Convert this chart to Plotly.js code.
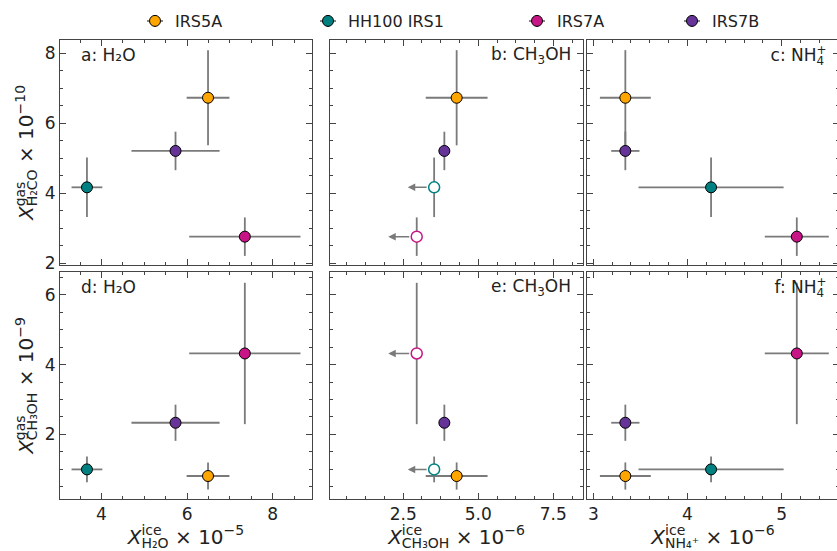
<!DOCTYPE html>
<html><head><meta charset="utf-8">
<script src="https://cdn.plot.ly/plotly-3.0.1.min.js"></script>
<style>html,body{margin:0;padding:0;overflow:hidden;background:#fff}#chart{width:840px;height:551px}</style>
</head><body><div id="chart"></div>
<script>
// ---------------- data ----------------
const sources = ['IRS5A', 'HH100 IRS1', 'IRS7A', 'IRS7B'];
const colors = ['#FFA500', '#008080', '#C71585', '#663399'];

// ice abundances (x)
const iceH2O = [6.49, 3.66, 7.35, 5.73];          // x 1e-5
const iceH2OErr = [0.50, 0.36, 1.30, 1.03];
const iceCH3OH = [4.28, 3.53, 2.95, 3.87];        // x 1e-6
const iceCH3OHErr = [1.03, 0, 0, 0];
const iceCH3OHUpper = [false, true, true, false]; // upper limits
const iceCH3OHArrow = [0, 0.88, 0.95, 0];
const iceNH4 = [3.34, 4.25, 5.16, 3.34];          // x 1e-6
const iceNH4Err = [0.27, 0.77, 0.34, 0.15];

// gas abundances (y)
const gasH2CO = [6.73, 4.17, 2.76, 5.21];         // x 1e-10
const gasH2COErr = [1.36, 0.85, 0.55, 0.55];
const gasCH3OH = [0.80, 0.99, 4.32, 2.33];        // x 1e-9
const gasCH3OHErr = [0.39, 0.37, 2.03, 0.52];

const panelLabels = ['a: H₂O', 'b: CH<sub>3</sub>OH', 'c: NH<sub>4</sub><sup>+</sup>',
                     'd: H₂O', 'e: CH<sub>3</sub>OH', 'f: NH<sub>4</sub><sup>+</sup>'];
const xTitles = ['<i>X</i><sup>ice</sup><sub>H₂O</sub> × 10<sup>−5</sup>',
                 '<i>X</i><sup>ice</sup><sub>CH₃OH</sub> × 10<sup>−6</sup>',
                 '<i>X</i><sup>ice</sup><sub>NH₄⁺</sub> × 10<sup>−6</sup>'];
const yTitles = ['<i>X</i><sup>gas</sup><sub>H₂CO</sub> × 10<sup>−10</sup>',
                 '<i>X</i><sup>gas</sup><sub>CH₃OH</sub> × 10<sup>−9</sup>'];

// ---------------- layout geometry ----------------
const W = 840, H = 551;
const FONT = 'DejaVu Sans, sans-serif';
const colPx = [[60, 312], [330, 583], [587, 839]];
const rowPx = [[40, 265], [272, 499]];
const xRanges = [[3.03, 8.92], [0.06, 8.49], [2.933, 5.608]];
const yRanges = [[1.95, 8.38], [0.14, 6.66]];
const xDticks = [[2, 0.5, ''], [2.5, 0.625, '.1f'], [1, 0.2, '']];
const legendCx = [155, 328, 537, 692];
const legendCy = 21;

const iceX = [iceH2O, iceCH3OH, iceNH4];
const iceXErr = [iceH2OErr, iceCH3OHErr, iceNH4Err];
const gasY = [gasH2CO, gasCH3OH];
const gasYErr = [gasH2COErr, gasCH3OHErr];

const traces = [];
const annotations = [];
const layout = {
  width: W, height: H,
  margin: {l: 0, r: 0, t: 0, b: 0},
  paper_bgcolor: 'white', plot_bgcolor: 'white',
  font: {family: FONT, color: '#222'},
  showlegend: true,
  annotations: annotations,
  shapes: []
};

const lineCol = '#444';
function axisCommon() {
  return {
    showline: true, mirror: 'allticks', linecolor: lineCol, linewidth: 1,
    ticks: 'inside', ticklen: 6, tickwidth: 1, tickcolor: lineCol,
    showgrid: false, zeroline: false,
    tickfont: {family: FONT, size: 17, color: '#222'},
    minor: {ticks: 'inside', ticklen: 3, tickwidth: 1, tickcolor: lineCol, showgrid: false},
    fixedrange: true
  };
}

for (let r = 0; r < 2; r++) {
  for (let c = 0; c < 3; c++) {
    const k = r * 3 + c + 1;
    const xs = k === 1 ? '' : String(k);
    const xa = 'xaxis' + xs, ya = 'yaxis' + xs;
    const xref = 'x' + xs, yref = 'y' + xs;

    const ax = axisCommon();
    ax.domain = [colPx[c][0] / W, colPx[c][1] / W];
    ax.range = xRanges[c];
    ax.anchor = yref;
    ax.tick0 = 0; ax.dtick = xDticks[c][0];
    ax.minor.dtick = xDticks[c][1]; ax.minor.tick0 = 0;
    if (xDticks[c][2]) ax.tickformat = xDticks[c][2];
    ax.showticklabels = (r === 1);
    if (r === 1) ax.title = {text: xTitles[c], font: {family: FONT, size: 20, color: '#222'}, standoff: 5};
    layout[xa] = ax;

    const ay = axisCommon();
    ay.domain = [1 - rowPx[r][1] / H, 1 - rowPx[r][0] / H];
    ay.range = yRanges[r];
    ay.anchor = xref;
    ay.tick0 = 0; ay.dtick = 2;
    ay.minor.dtick = 0.5; ay.minor.tick0 = 0;
    ay.showticklabels = (c === 0);
    if (c === 0) ay.title = {text: yTitles[r], font: {family: FONT, size: 20, color: '#222'}, standoff: 5};
    layout[ya] = ay;

    for (let i = 0; i < sources.length; i++) {
      const open = (c === 1 && iceCH3OHUpper[i]);
      const xe = iceXErr[c][i];
      traces.push({
        type: 'scatter', mode: 'markers',
        x: [iceX[c][i]], y: [gasY[r][i]],
        xaxis: xref, yaxis: yref,
        name: sources[i], legendgroup: sources[i],
        showlegend: k === 1,
        legend: i === 0 ? 'legend' : 'legend' + (i + 1),
        marker: {
          size: 11,
          color: open ? 'white' : colors[i],
          line: {color: open ? colors[i] : 'black', width: open ? 1.5 : 1}
        },
        error_x: {type: 'data', array: [xe], visible: xe > 0, color: '#7a7a7a', thickness: 1.8, width: 0},
        error_y: {type: 'data', array: [gasYErr[r][i]], visible: true, color: '#7a7a7a', thickness: 1.8, width: 0},
        hoverinfo: 'x+y+name'
      });
      if (open) {
        annotations.push({
          xref: xref, yref: yref, axref: xref, ayref: yref,
          x: iceX[c][i] - iceCH3OHArrow[i], y: gasY[r][i],
          ax: iceX[c][i], ay: gasY[r][i],
          text: '', showarrow: true, arrowhead: 2, arrowsize: 1, arrowwidth: 1.5,
          arrowcolor: '#7a7a7a', startstandoff: 6, standoff: 0
        });
      }
    }

    // panel label
    const left = (c === 0);
    annotations.push({
      xref: xref + ' domain', yref: yref + ' domain',
      x: left ? 0.075 : 0.96,
      y: 1 - 15 / (rowPx[r][1] - rowPx[r][0]),
      xanchor: left ? 'left' : 'right', yanchor: 'middle',
      align: left ? 'left' : 'right',
      text: panelLabels[k - 1], showarrow: false,
      font: {family: FONT, size: 17, color: '#222'}
    });
  }
}

// legends: one per source so that each entry sits where the reference places it
for (let i = 0; i < sources.length; i++) {
  const key = i === 0 ? 'legend' : 'legend' + (i + 1);
  layout[key] = {
    x: (legendCx[i] - 20) / W, xanchor: 'left',
    y: 1 - legendCy / H, yanchor: 'middle',
    orientation: 'h', bgcolor: 'rgba(0,0,0,0)', borderwidth: 0,
    font: {family: FONT, size: 16, color: '#222'},
    itemclick: false, itemdoubleclick: false
  };
  // error-bar cross behind the legend marker
  layout.shapes.push({type: 'line', xref: 'paper', yref: 'paper',
    x0: (legendCx[i] - 8) / W, x1: (legendCx[i] + 8) / W,
    y0: 1 - legendCy / H, y1: 1 - legendCy / H,
    line: {color: '#7a7a7a', width: 1.8}});
  layout.shapes.push({type: 'line', xref: 'paper', yref: 'paper',
    x0: legendCx[i] / W, x1: legendCx[i] / W,
    y0: 1 - (legendCy - 6) / H, y1: 1 - (legendCy + 6) / H,
    line: {color: '#7a7a7a', width: 1.8}});
}

// stack a superscript directly above a following subscript (and vice versa)
function stackScripts(root) {
  const isBlank = n => (n.textContent || '').replace(/\u200b/g, '').trim() === '';
  root.querySelectorAll('text').forEach(function (t) {
    const kids = Array.from(t.childNodes);
    let prev = null;
    for (let j = 0; j < kids.length; j++) {
      const n = kids[j];
      if (isBlank(n)) continue;
      const isScript = n.nodeType === 1 && n.getAttribute('dy');
      if (isScript && prev && prev.nodeType === 1 && prev.getAttribute('dy')) {
        const w1 = prev.getComputedTextLength();
        const w2 = n.getComputedTextLength();
        n.setAttribute('dx', -w1);
        if (w1 > w2) {
          for (let m = j + 1; m < kids.length; m++) {
            if (kids[m].nodeType === 1) { kids[m].setAttribute('dx', w1 - w2); break; }
          }
        }
        prev = null;
        continue;
      }
      prev = n;
    }
  });
}

Plotly.newPlot('chart', traces, layout, {displayModeBar: false, responsive: false})
  .then(function (gd) { stackScripts(gd); });
</script>
</body></html>
